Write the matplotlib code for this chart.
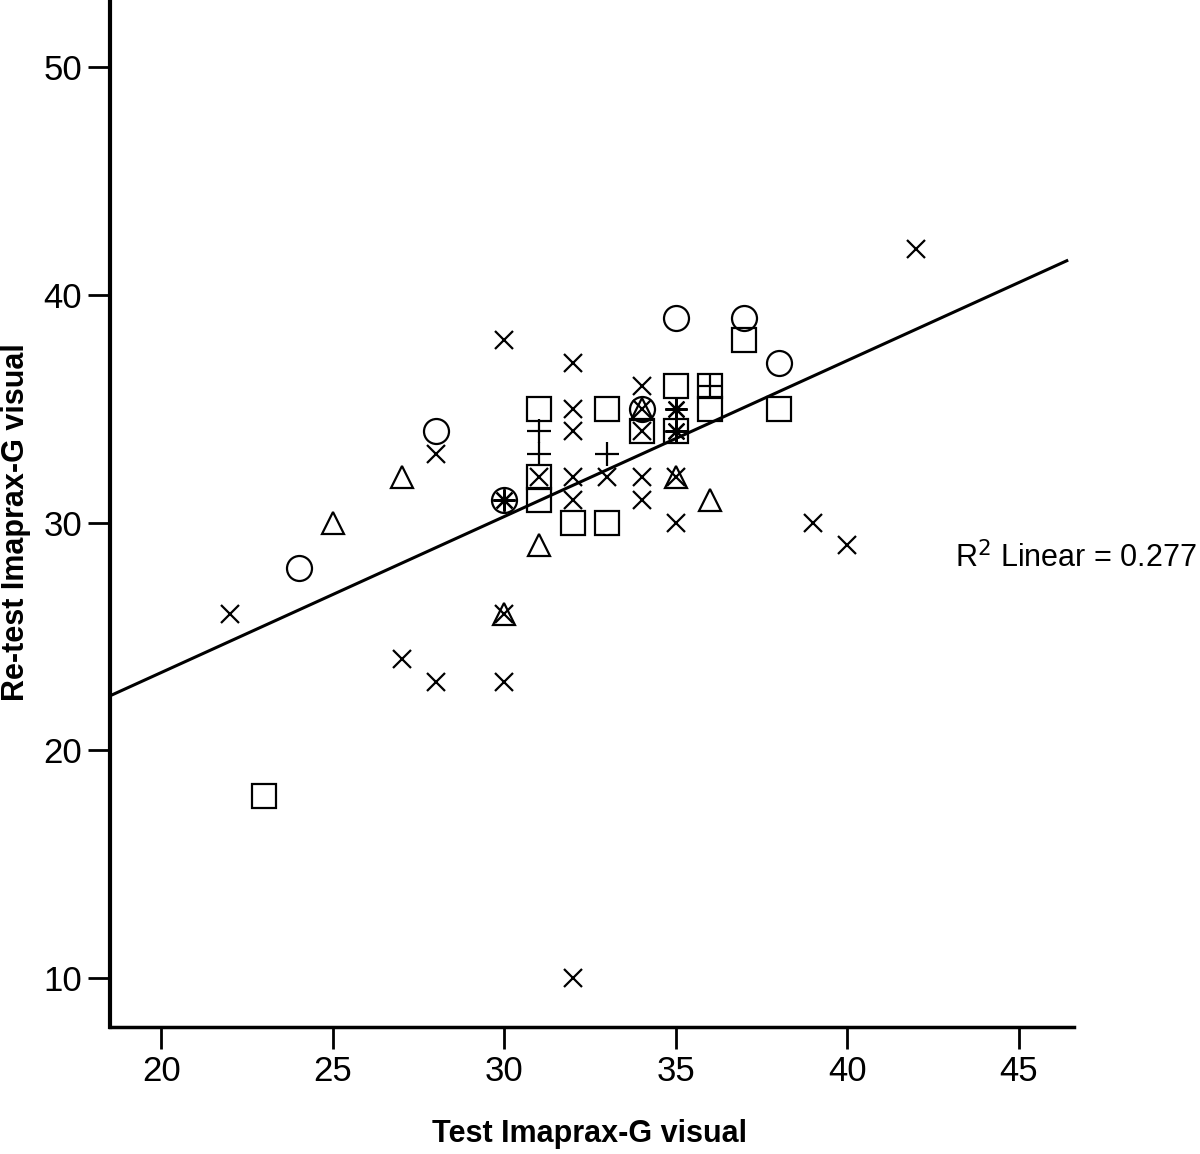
import matplotlib
matplotlib.use('Agg')
import matplotlib.pyplot as plt
import numpy as np

plt.rcParams['font.family'] = ['Liberation Sans Narrow', 'Liberation Sans', 'DejaVu Sans']

# points by marker group (test, retest)
cross_x = [42, 30, 32, 34, 32, 34, 32, 34, 33, 32, 32, 34, 34, 35, 31, 35, 39, 40, 28, 22, 30, 27, 28, 30, 32]
cross_y = [42, 38, 37, 36, 35, 35, 34, 34, 32, 32, 31, 31, 32, 32, 32, 30, 30, 29, 33, 26, 26, 24, 23, 23, 10]
square_x = [37, 38, 35, 36, 36, 31, 33, 34, 35, 31, 31, 32, 33, 23]
square_y = [38, 35, 36, 36, 35, 35, 35, 34, 34, 32, 31, 30, 30, 18]
circle_x = [35, 37, 38, 34, 28, 24, 30]
circle_y = [39, 39, 37, 35, 34, 28, 31]
tri_x = [34, 35, 36, 31, 27, 25, 30]
tri_y = [35, 32, 31, 29, 32, 30, 26]
plus_x = [36, 31, 31, 33]
plus_y = [36, 34, 33, 33]
ast_x = [35, 35, 30]
ast_y = [35, 34, 31]

fig = plt.figure(figsize=(12, 11.54), dpi=100)
ax = fig.add_axes([0.0917, 0.110, 0.803, 0.890])

kw = dict(linestyle='none', color='black', markerfacecolor='none', markeredgewidth=1.6)
ax.plot(cross_x, cross_y, marker='x', markersize=13, **kw)
ax.plot(square_x, square_y, marker='s', markersize=17, **kw)
ax.plot(circle_x, circle_y, marker='o', markersize=18, **kw)
ax.plot(tri_x, tri_y, marker='^', markersize=16, **kw)
ax.plot(plus_x, plus_y, marker='+', markersize=17, **kw)
ax.plot(ast_x, ast_y, marker=(8, 2, 0), markersize=16, **kw)

# linear fit over all points
all_x = np.array(cross_x + square_x + circle_x + tri_x + plus_x + ast_x, dtype=float)
all_y = np.array(cross_y + square_y + circle_y + tri_y + plus_y + ast_y, dtype=float)
b, a = np.polyfit(all_x, all_y, 1)
xx = np.array([18.5, 46.4])
ax.plot(xx, a + b * xx, color='black', linewidth=2.2)

ax.text(0.9975, 0.5087, 'R$^2$ Linear = 0.277', fontsize=22, clip_on=False,
        ha='right', va='baseline', transform=fig.transFigure,
        family=['Liberation Sans', 'DejaVu Sans'])

ax.set_xlim(18.5, 46.6)
ax.set_ylim(7.85, 52.94)
ax.set_xticks([20, 25, 30, 35, 40, 45])
ax.set_yticks([10, 20, 30, 40, 50])
ax.tick_params(direction='out', length=16, width=2, labelsize=25, pad=4)
ax.spines['top'].set_visible(False)
ax.spines['right'].set_visible(False)
ax.spines['left'].set_linewidth(3)
ax.spines['bottom'].set_linewidth(2.5)

ax.set_xlabel('Test Imaprax-G visual', fontsize=22, fontweight='bold',
              family=['Liberation Sans', 'DejaVu Sans'])
ax.set_ylabel('Re-test Imaprax-G visual', fontsize=22, fontweight='bold',
              family=['Liberation Sans', 'DejaVu Sans'])
ax.xaxis.set_label_coords(0.498, -0.090)
ax.yaxis.set_label_coords(-0.082, 0.492)

fig.savefig('out.png', dpi=100)
